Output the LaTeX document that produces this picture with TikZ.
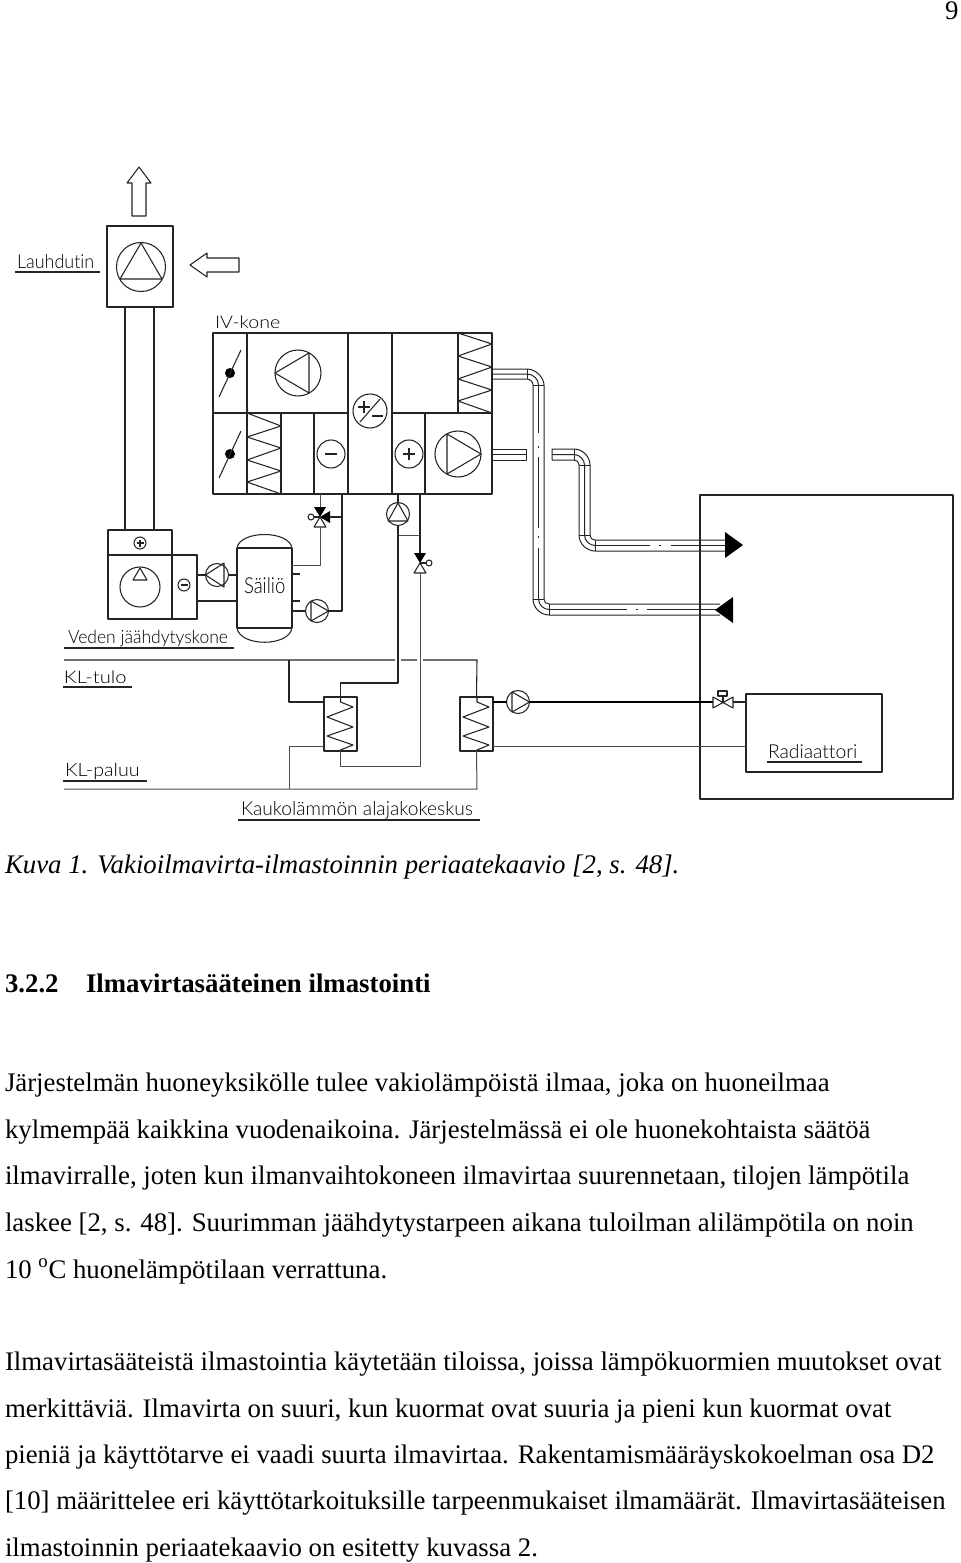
\documentclass[tikz,border=0pt]{standalone}
\usepackage{fontspec}
\usepackage{graphicx}
\setmainfont{Liberation Serif}
\newfontfamily\cad[Ligatures=NoCommon]{Lato Light}
\definecolor{ink}{gray}{0.14}
\definecolor{lite}{gray}{0.3}
\newcommand\BX[5]{%
  \pgfmathsetmacro\bxw{(#4-#2)*0.75}\pgfmathsetmacro\bxh{(#5-#3)*0.75}%
  \node[cadbox,minimum width=\bxw pt,minimum height=\bxh pt] (#1) at ({(#2+#4)/2},{(#3+#5)/2}) {};}
\tikzset{
  line/.style={line width=0.8pt,draw=ink},
  litel/.style={line width=0.75pt,draw=lite},
  cadbox/.style={line,rectangle,inner sep=0pt,outer sep=0pt},
  pump/.style={line,circle,inner sep=0pt,outer sep=0pt,minimum size=17.25pt},
  bigfan/.style={line,circle,inner sep=0pt,outer sep=0pt,minimum size=34.5pt},
  smallc/.style={line,circle,inner sep=0pt,outer sep=0pt,minimum size=21pt},
  knob/.style={line,circle,inner sep=0pt,outer sep=0pt,minimum size=4.5pt},
  cadtext/.style={anchor=base west,inner sep=0pt,outer sep=0pt,text=black},
  bodytext/.style={anchor=base west,inner sep=0pt,outer sep=0pt,text=black,font=\fontsize{20.1pt}{23pt}\selectfont},
  pipe/.style={line width=0.75pt,draw=ink},
}
\begin{document}
\begin{tikzpicture}[x=0.75pt,y=-0.75pt,line join=round]
\useasboundingbox (0,0) rectangle (960,1563);
\fill[white] (0,0) rectangle (960,1563);
\begin{scope}[line]
% ----- condenser and its duct
\BX{cond}{107}{226}{173}{307}
\node[line,circle,inner sep=0pt,outer sep=0pt,minimum size=36.75pt] (condfan) at (141,267) {};
\draw (141,243) -- (120,279) -- (162,279) -- cycle;
\draw (139,167) -- (151,183) -- (146,183) -- (146,216) -- (132,216) -- (132,183) -- (127,183) -- cycle;
\draw (190,265) -- (207,253) -- (207,258) -- (239,258) -- (239,272) -- (207,272) -- (207,277) -- cycle;
\BX{chilltop}{108}{530}{172}{555}
\BX{chillbody}{108}{555}{172}{619}
\BX{chillside}{172}{555}{197}{619}
\draw (cond.south -| 125,0) -- (chilltop.north -| 125,0);
\draw (cond.south -| 154,0) -- (chilltop.north -| 154,0);
\node[knob,minimum size=9pt] (chillplus) at (140,543) {};
\draw (136.5,543) -- (143.5,543) (140,539.5) -- (140,546.5);
\node[line,circle,inner sep=0pt,outer sep=0pt,minimum size=30pt] (chillfan) at (140,587) {};
\draw (140,568) -- (147,580) -- (133,580) -- cycle;
\node[knob,minimum size=9pt] (chillminus) at (184,585) {};
\draw (180.5,585) -- (187.5,585);
% ----- tank
\coordinate (tl) at (237,548); \coordinate (tr) at (292,548);
\coordinate (bl) at (237,628); \coordinate (br) at (292,628);
\draw (tl) -- (bl) (tr) -- (br) (tl) -- (tr) (bl) -- (br);
\draw (tl) .. controls (240,530) and (289,530) .. (tr);
\draw (bl) .. controls (240,647) and (289,647) .. (br);
% ----- air handling unit
\BX{iv}{213}{333}{492}{494}
\draw (247,333) -- (247,494) (348,333) -- (348,494) (392,333) -- (392,494) (458,333) -- (458,413);
\draw (281,413) -- (281,494) (314,413) -- (314,494) (425,413) -- (425,494);
\draw (213,413) -- (348,413) (392,413) -- (492,413);
\fill[black] (230,373) circle[radius=5];
\draw (219,397) -- (241,350);
\fill[black] (230,454) circle[radius=5];
\draw (219,478) -- (241,431);
\node[bigfan] (fan1) at (298,373) {};
\draw (275,373) -- (309,353) -- (309,393) -- cycle;
\node[line,circle,inner sep=0pt,outer sep=0pt,minimum size=25.5pt] (mix) at (370,411) {};
\draw (360,422) -- (380,399);
\draw (358,407) -- (370,407) (364,401) -- (364,413) (372,416) -- (383,416);
\node[smallc] (cool) at (331,454) {};
\draw (325,454) -- (337,454);
\node[smallc] (heat) at (409,454) {};
\draw (403,454) -- (415,454) (409,448) -- (409,460);
\node[bigfan] (fan2) at (458,454) {};
\draw (481,454) -- (447,434) -- (447,474) -- cycle;
\draw (458,333) -- (492,344) -- (458,356) -- (492,367) -- (458,379) -- (492,390) -- (458,401) -- (492,413);
\draw (247,413) -- (281,426) -- (247,437) -- (281,448) -- (247,460) -- (281,471) -- (247,482) -- (281,494);
% ----- room and radiator
\BX{room}{700}{495}{953}{799}
\BX{rad}{746}{694}{882}{772}
% ----- ducts
\begin{scope}[pipe]
\draw (492,369) -- (527,369) .. controls (536,369) and (544,378) .. (544,385) -- (544,599);
\draw (492,379) -- (527,379) .. controls (530,379) and (533,382) .. (533,385) -- (533,599);
\draw (527,369) -- (527,379) (533,385) -- (544,385);
\draw (492,374) -- (527,374) .. controls (533,374) and (538.5,379) .. (538.5,385);
\draw (533,599) .. controls (533,608) and (541,615) .. (549,615) -- (720,615);
\draw (544,599) .. controls (544,602) and (546,604) .. (549,604) -- (720,604);
\draw (533,599) -- (544,599) (549,604) -- (549,615);
\draw (538.5,599) .. controls (538.5,605) and (544,609.5) .. (549,609.5);
\draw (538.5,385) -- (538.5,433) (538.5,446) -- (538.5,448) (538.5,457) -- (538.5,528) (538.5,536) -- (538.5,538) (538.5,548) -- (538.5,599);
\draw (549,609.5) -- (627,609.5) (636,609.5) -- (638,609.5) (647,609.5) -- (720,609.5);
\draw (492,449) -- (526,449) -- (526,460) -- (492,460) (492,454.5) -- (526,454.5);
\draw (552,460) -- (552,449) -- (574,449) .. controls (583,449) and (590,457) .. (590,465) -- (590,535);
\draw (552,460) -- (574,460) .. controls (577,460) and (579,462) .. (579,465) -- (579,535);
\draw (552,454.5) -- (574,454.5) .. controls (580,454.5) and (584.5,460) .. (584.5,465) -- (584.5,535);
\draw (574,449) -- (574,460) (579,465) -- (590,465);
\draw (579,535) .. controls (579,544) and (587,551) .. (595,551) -- (725,551);
\draw (590,535) .. controls (590,538) and (592,540) .. (595,540) -- (725,540);
\draw (579,535) -- (590,535) (595,540) -- (595,551);
\draw (584.5,535) .. controls (584.5,541) and (590,545.5) .. (595,545.5);
\draw (595,545.5) -- (650,545.5) (659,545.5) -- (661,545.5) (671,545.5) -- (725,545.5);
\end{scope}
\fill[black] (725,532) -- (743,545) -- (725,558) -- cycle;
\fill[black] (733,597) -- (715,610) -- (733,623) -- cycle;
% ----- pumps and valves near the tank
\node[pump] (p6) at (217,575) {};
\draw (205.5,575) -- (224,563) -- (224,587) -- cycle;
\draw (chillside.east |- p6) -- (p6) (p6) -- (tl |- p6);
\draw (chillside.east |- 0,601) -- (tl |- 0,601);
\node[pump] (p5) at (317,611) {};
\draw (328.5,611) -- (311,601) -- (311,621) -- cycle;
\draw (tr |- p5) -- (p5);
\draw (tr |- 0,574) -- (300,574) (tr |- 0,601) -- (300,601);
\coordinate (v3) at (320,517);
\fill[black] (314,507) -- (326,507) -- (v3) -- cycle;
\fill[black] (330,511) -- (330,523) -- (v3) -- cycle;
\draw (v3) -- (314,527) -- (326,527) -- cycle;
\node[knob] (v3k) at (311,517) {};
\draw (v3k) -- (v3);
\coordinate (j2) at (320,565);
\draw[litel] (320,494) -- (320,507);
\draw[litel] (320,527) -- (j2) -- (tr |- j2);
\coordinate (j3) at (342,611); \coordinate (j4) at (342,494);
\draw (j4) -- (j3) -- (p5);
\draw (330,517) -- (342,517);
\node[pump] (p4) at (398,514) {};
\draw (398,503) -- (408,521) -- (388,521) -- cycle;
\coordinate (v2) at (420,563);
\fill[black] (414,553) -- (426,553) -- (v2) -- cycle;
\draw (v2) -- (414,573) -- (426,573) -- cycle;
\node[knob] (v2k) at (429,563) {};
\draw (v2) -- (v2k);
\coordinate (j5) at (398,535); \coordinate (j6) at (420,535);
\draw (398,494) -- (p4) (420,494) -- (420,553);
\draw[litel] (j5) -- (j6);
% ----- heat exchangers
\BX{hx1}{324}{697}{357}{751}
\BX{hx2}{460}{697}{493}{751}
\draw (340.5,697) -- (340.5,702) -- (353,707) -- (327,717) -- (353,727) -- (327,736) -- (353,745) -- (340.5,750) -- (340.5,751);
\draw (477,697) -- (477,702) -- (489,707) -- (463,717) -- (489,727) -- (463,736) -- (489,745) -- (477,750) -- (477,751);
\coordinate (j7) at (398,683); \coordinate (j8) at (420,766);
\draw (hx1.north) |- (j7) -- (p4);
\draw[litel] (hx1.south) |- (j8) -- (420,573);
\draw (64,660) -- (395,660) (401,660) -- (417,660) (423,660) -- (477,660) -- (hx2.north);
\draw[litel] (64,789) -- (477,789) -- (hx2.south);
\coordinate (j9) at (289,660); \coordinate (j10) at (289,789);
\draw (j9) |- (hx1.west |- 0,702);
\draw[litel] (j10) |- (hx1.west |- 0,746);
\node[pump] (p3) at (518,702) {};
\draw (529.5,702) -- (512,692) -- (512,712) -- cycle;
\draw[line width=0.9pt,draw=black] (hx2.east |- p3) -- (p3);
\coordinate (vr) at (723,702);
\draw[line width=0.9pt,draw=black] (p3) -- (713,702);
\draw (713,697) -- (733,708) -- (733,697) -- (713,708) -- cycle;
\draw (vr) -- (723,696);
\draw (718,691) rectangle (727,696);
\draw (733,702) -- (rad.west |- vr);
\draw[litel] (hx2.east |- 0,746) -- (rad.west |- 0,746);
% ----- label underlines
\draw (15,272) -- (100,272);
\draw (64,648) -- (234,648);
\draw (62.5,687) -- (132,687);
\draw (63,781) -- (147,781);
\draw (238,820) -- (480,820);
\draw (767,762) -- (862,762);
\end{scope}
% ----- labels
\node[cadtext] (lLauh) at (17,268) {\resizebox{58pt}{10.5pt}{\cad Lauhdutin}};
\node[cadtext] (lIV) at (215,328) {\resizebox{49pt}{9.5pt}{\cad IV-kone}};
\node[cadtext] (lSail) at (244,593) {\resizebox{31pt}{12pt}{\cad Säiliö}};
\node[cadtext] (lVed) at (68,643) {\resizebox{120pt}{10pt}{\cad Veden jäähdytyskone}};
\node[cadtext] (lTulo) at (64,683) {\resizebox{47pt}{9.5pt}{\cad KL-tulo}};
\node[cadtext] (lPal) at (65,776) {\resizebox{56pt}{10pt}{\cad KL-paluu}};
\node[cadtext] (lKauk) at (241,815) {\resizebox{174pt}{10.5pt}{\cad Kaukolämmön alajakokeskus}};
\node[cadtext] (lRad) at (768,758) {\resizebox{67pt}{10.5pt}{\cad Radiaattori}};
% ----- text of the page
\node[bodytext] (pg) at (945,19) {9};
\node[bodytext] (cap) at (5,873) {\itshape Kuva 1. Vakioilmavirta-ilmastoinnin periaatekaavio [2, s. 48].};
\node[bodytext] (hd1) at (5,992.5) {\bfseries 3.2.2};
\node[bodytext] (hd2) at (86,992.5) {\bfseries Ilmavirtasääteinen ilmastointi};
\node[bodytext] (t1) at (5,1091.5) {Järjestelmän huoneyksikölle tulee vakiolämpöistä ilmaa, joka on huoneilmaa};
\node[bodytext] (t2) at (5,1138) {kylmempää kaikkina vuodenaikoina. Järjestelmässä ei ole huonekohtaista säätöä};
\node[bodytext] (t3) at (5,1184) {ilmavirralle, joten kun ilmanvaihtokoneen ilmavirtaa suurennetaan, tilojen lämpötila};
\node[bodytext] (t4) at (5,1231) {laskee [2, s. 48]. Suurimman jäähdytystarpeen aikana tuloilman alilämpötila on noin};
\node[bodytext] (t5) at (5,1278) {10 \textsuperscript{o}C huonelämpötilaan verrattuna.};
\node[bodytext] (t6) at (5,1370) {Ilmavirtasääteistä ilmastointia käytetään tiloissa, joissa lämpökuormien muutokset ovat};
\node[bodytext] (t7) at (5,1417) {merkittäviä. Ilmavirta on suuri, kun kuormat ovat suuria ja pieni kun kuormat ovat};
\node[bodytext] (t8) at (5,1463) {pieniä ja käyttötarve ei vaadi suurta ilmavirtaa. Rakentamismääräyskokoelman osa D2};
\node[bodytext] (t9) at (5,1509) {[10] määrittelee eri käyttötarkoituksille tarpeenmukaiset ilmamäärät. Ilmavirtasääteisen};
\node[bodytext] (t10) at (5,1556) {ilmastoinnin periaatekaavio on esitetty kuvassa 2.};
\end{tikzpicture}
\end{document}
